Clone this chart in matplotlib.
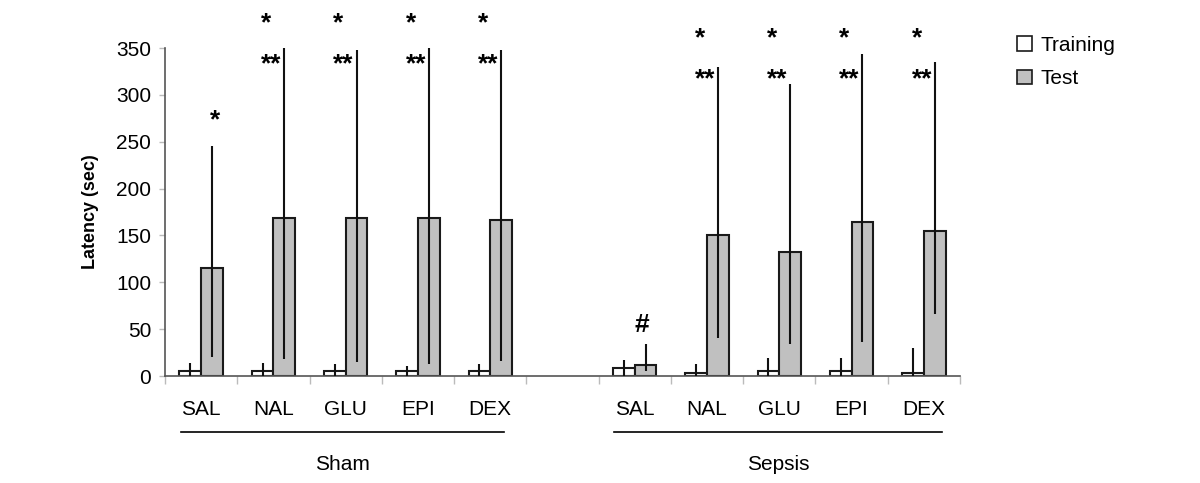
import matplotlib
matplotlib.use("Agg")
import matplotlib.pyplot as plt
import numpy as np
from matplotlib.patches import Patch

plt.rcParams['font.family'] = ['Liberation Sans', 'DejaVu Sans']

categories = ["SAL", "NAL", "GLU", "EPI", "DEX", "", "SAL", "NAL", "GLU", "EPI", "DEX"]
training = [5, 5, 5, 5, 5, None, 8.5, 3.5, 5, 5, 3.5]
training_err_up = [9, 9, 7.5, 6, 7.5, None, 9, 9, 14.5, 14.5, 26.5]
test = [115, 169, 169, 169, 167, None, 12, 151, 132, 164, 155]
test_err_up = [130, 181, 179, 181, 181, None, 22, 179, 180, 180, 180]
test_err_low = [95, 151, 154, 156, 151, None, 7, 110, 98, 128, 89]
marks = ["*", "*|**", "*|**", "*|**", "*|**", "", "#", "*|**", "*|**", "*|**", "*|**"]
groups = ["Sham", "Sepsis"]

fig = plt.figure(figsize=(12, 4.83), dpi=100)
ax = fig.add_axes([0.1375, 0.2215, 0.6625, 0.6791])

x = np.arange(len(categories))
w = 0.3
for i in range(len(categories)):
    if training[i] is None:
        continue
    xt = x[i] - w / 2
    xs = x[i] + w / 2
    ax.bar(xt, training[i], width=w, color='white', edgecolor='#1a1a1a', linewidth=1.5, zorder=2)
    ax.bar(xs, test[i], width=w, color='#c0c0c0', edgecolor='#1a1a1a', linewidth=1.5, zorder=2)
    ax.errorbar(xt, training[i], yerr=[[training[i]], [training_err_up[i]]], fmt='none',
                ecolor='#111111', elinewidth=1.5, capsize=0, zorder=3)
    ax.errorbar(xs, test[i], yerr=[[test_err_low[i]], [min(test_err_up[i], 350 - test[i])]], fmt='none',
                ecolor='#111111', elinewidth=1.5, capsize=0, zorder=3)

# significance marks
for i, s in enumerate(marks):
    if not s:
        continue
    if s == "*":
        ax.text(x[i] + 0.2, 260, s, ha='center', va='bottom', fontsize=19, fontweight='bold', clip_on=False)
    elif s == "#":
        ax.text(x[i] + 0.1, 42, s, ha='center', va='bottom', fontsize=19, fontweight='bold', clip_on=False)
    else:
        top, bottom = s.split("|")
        ytop = 376 if i < 5 else 360
        ax.text(x[i] - 0.17, ytop, top, ha='left', va='center', fontsize=19, fontweight='bold', clip_on=False)
        ax.text(x[i] - 0.17, ytop - 43, bottom, ha='left', va='center', fontsize=19, fontweight='bold', clip_on=False)

ax.set_xlim(-0.5, 10.5)
ax.set_ylim(0, 350)
ax.set_yticks(np.arange(0, 351, 50))
ax.tick_params(axis='y', labelsize=15, length=4, color='#bbbbbb', width=1, pad=6)
ax.set_xticks(x)
ax.set_xticklabels(categories, fontsize=15)
ax.tick_params(axis='x', length=0, pad=17)
ax.set_xticks(np.arange(-0.5, 11, 1), minor=True)
ax.tick_params(axis='x', which='minor', length=6, color='#bbbbbb', width=1)
for sp in ['top', 'right']:
    ax.spines[sp].set_visible(False)
for sp in ['left', 'bottom']:
    ax.spines[sp].set_color('#555555')
    ax.spines[sp].set_linewidth(1.2)

ax.set_ylabel("Latency (sec)", fontsize=13, fontweight='bold', labelpad=12)

trans = ax.get_xaxis_transform()
group_spans = [(-0.28, 4.19), (5.71, 10.25)]
for (a, b), g in zip(group_spans, groups):
    ax.plot([a, b], [-0.171, -0.171], transform=trans, color='black', lw=1.2, clip_on=False)
    ax.text((a + b) / 2, -0.271, g, transform=trans, ha='center', va='center', fontsize=15)

handles = [Patch(facecolor='white', edgecolor='#1a1a1a', linewidth=1.2, label='Training'),
           Patch(facecolor='#c0c0c0', edgecolor='#1a1a1a', linewidth=1.2, label='Test')]
fig.legend(handles=handles, loc='upper left', bbox_to_anchor=(0.832, 0.965), frameon=False,
           fontsize=15, handlelength=0.7, handleheight=0.7, handletextpad=0.4, labelspacing=0.7)

fig.savefig("out.png", dpi=100)
